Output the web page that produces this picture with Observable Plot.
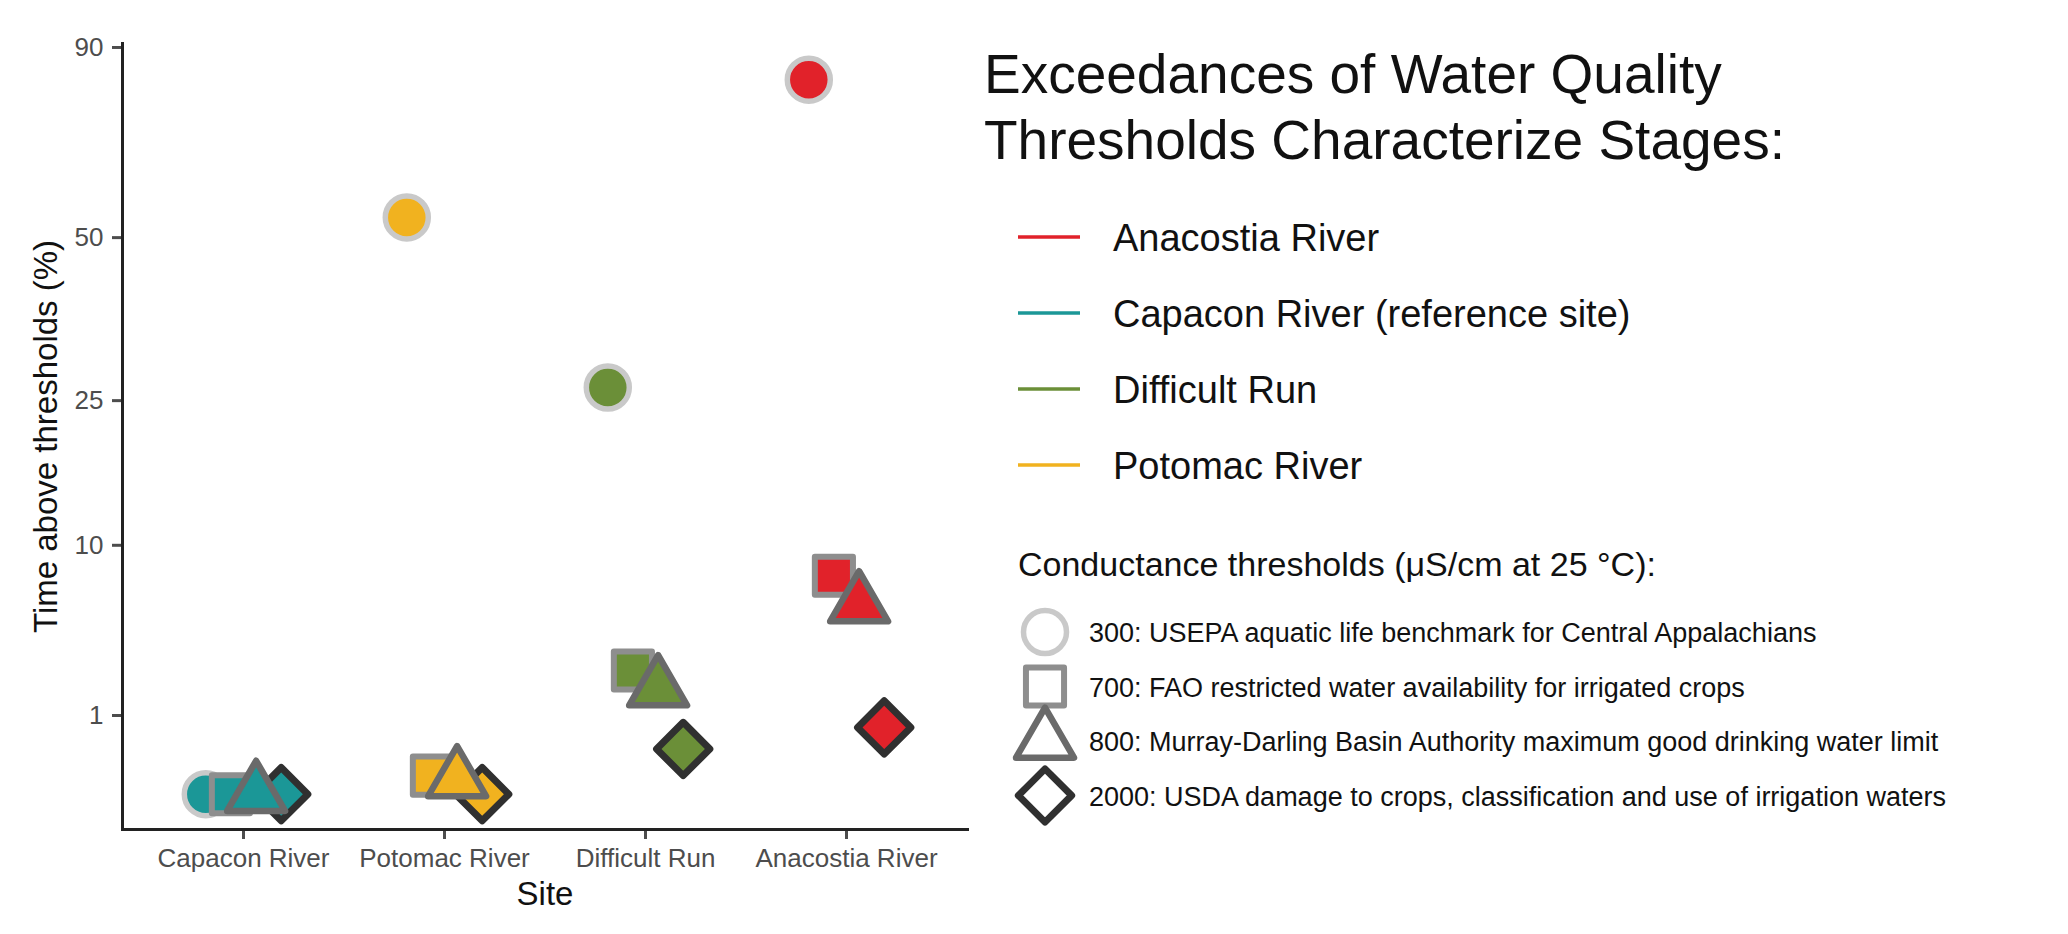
<!DOCTYPE html>
<html><head><meta charset="utf-8">
<script src="https://cdn.jsdelivr.net/npm/d3@7"></script>
<script src="https://cdn.jsdelivr.net/npm/@observablehq/plot@0.6"></script>
<style>
html,body{margin:0;padding:0;background:#fff;}
#wrap{position:relative;width:2068px;height:934px;overflow:hidden;font-family:"Liberation Sans",Arial,sans-serif;}
#chart{position:absolute;left:0;top:0;}
#legend{position:absolute;left:0;top:0;pointer-events:none;}
</style></head><body>
<div id="wrap"><div id="chart"></div><svg id="legend" width="2068" height="934"></svg></div>
<script>
// ---- data ----
const sites = ["Capacon River", "Potomac River", "Difficult Run", "Anacostia River"];
const siteColors = ["#1b9797", "#f1b21f", "#6b8f38", "#e1222a"];
const legendSites = ["Anacostia River", "Capacon River (reference site)", "Difficult Run", "Potomac River"];
const legendSiteColors = ["#e1222a", "#1b9797", "#6b8f38", "#f1b21f"];
const thresholdLabels = [
  "300: USEPA aquatic life benchmark for Central Appalachians",
  "700: FAO restricted water availability for irrigated crops",
  "800: Murray-Darling Basin Authority maximum good drinking water limit",
  "2000: USDA damage to crops, classification and use of irrigation waters"
];
// time above threshold (%) per site, in the order of `sites`
const pct300 = [0, 53.7, 26.7, 82.4];
const pct700 = [0, 0.056, 2.47, 7.7];
const pct800 = [0, 0.035, 1.8, 5.8];
const pct2000 = [0, 0, 0.33, 0.72];
const yTicks = [1, 10, 25, 50, 90];

// ---- styles ----
const font = '"Liberation Sans", Arial, sans-serif';
const thresholdStyles = [
  {symbol: "circle",   stroke: "#c9c9c9", r: 21.5, dx: -37.7, sw: 5.5},
  {symbol: "square",   stroke: "#8e8e8e", r: 21.5, dx: -12.6, sw: 6},
  {symbol: "triangle", stroke: "#6a6a6a", r: 21.5, dx: 12.6, sw: 6.5},
  {symbol: "diamond2", stroke: "#303030", r: 24, dx: 37.7, sw: 7}
];
const seriesValues = [pct300, pct700, pct800, pct2000];
const drawOrder = [0, 1, 3, 2];

const dotMarks = drawOrder.map(k => {
  const st = thresholdStyles[k];
  const data = sites.map((s, i) => ({site: s, value: seriesValues[k][i]}));
  return Plot.dot(data, {
    x: "site", y: "value", fill: "site",
    symbol: st.symbol, r: st.r, dx: st.dx,
    stroke: st.stroke, strokeWidth: st.sw, strokeLinejoin: "round"
  });
});

const chart = Plot.plot({
  width: 980, height: 934,
  marginLeft: 122, marginRight: 13, marginTop: 43, marginBottom: 105,
  style: {fontFamily: font, background: "transparent"},
  x: {type: "point", domain: sites, padding: 0.6},
  y: {type: "sqrt", domain: [-0.2011, 90.96]},
  color: {domain: sites, range: siteColors},
  marks: [
    Plot.axisY({ticks: yTicks, tickFormat: d => String(d), tickSize: 10, tickPadding: 9,
      fontSize: 26, color: "#4d4d4d", strokeWidth: 3,
      label: "Time above thresholds (%)", labelAnchor: "center", labelOffset: 89, labelArrow: "none"}),
    Plot.axisX({tickSize: 10, tickPadding: 9, fontSize: 26, color: "#4d4d4d", strokeWidth: 3,
      label: "Site", labelAnchor: "center", labelOffset: 75, labelArrow: "none"}),
    Plot.frame({anchor: "left", stroke: "#222", strokeWidth: 3}),
    Plot.frame({anchor: "bottom", stroke: "#222", strokeWidth: 3}),
    ...dotMarks
  ]
});
document.getElementById("chart").appendChild(chart);
d3.select(chart).selectAll('g[aria-label="x-axis label"], g[aria-label="y-axis label"]')
  .attr("font-size", 33).attr("fill", "#111");

// ---- legend ----
const lg = d3.select("#legend").attr("font-family", font).attr("fill", "#111");
lg.append("text").attr("x", 984).attr("y", 93).attr("font-size", 55).text("Exceedances of Water Quality");
lg.append("text").attr("x", 984).attr("y", 159).attr("font-size", 55).text("Thresholds Characterize Stages:");

legendSites.forEach((s, i) => {
  const y = 237 + i * 76;
  lg.append("line").attr("x1", 1018).attr("x2", 1080).attr("y1", y).attr("y2", y)
    .attr("stroke", legendSiteColors[i]).attr("stroke-width", 3.5);
  lg.append("text").attr("x", 1113).attr("y", y + 14).attr("font-size", 38).text(s);
});

lg.append("text").attr("x", 1018).attr("y", 576).attr("font-size", 34)
  .text("Conductance thresholds (\u03bcS/cm at 25 \u00b0C):");
const d3Types = {circle: d3.symbolCircle, square: d3.symbolSquare, triangle: d3.symbolTriangle, diamond2: d3.symbolDiamond2};
thresholdLabels.forEach((t, i) => {
  const st = thresholdStyles[i];
  const cy = 632 + i * 54.5;
  lg.append("path")
    .attr("d", d3.symbol(d3Types[st.symbol], Math.PI * st.r * st.r)())
    .attr("transform", `translate(1045,${cy})`)
    .attr("fill", "none").attr("stroke", st.stroke).attr("stroke-width", st.sw).attr("stroke-linejoin", "round");
  lg.append("text").attr("x", 1089).attr("y", cy + 10).attr("font-size", 27).text(t);
});
</script>
</body></html>
